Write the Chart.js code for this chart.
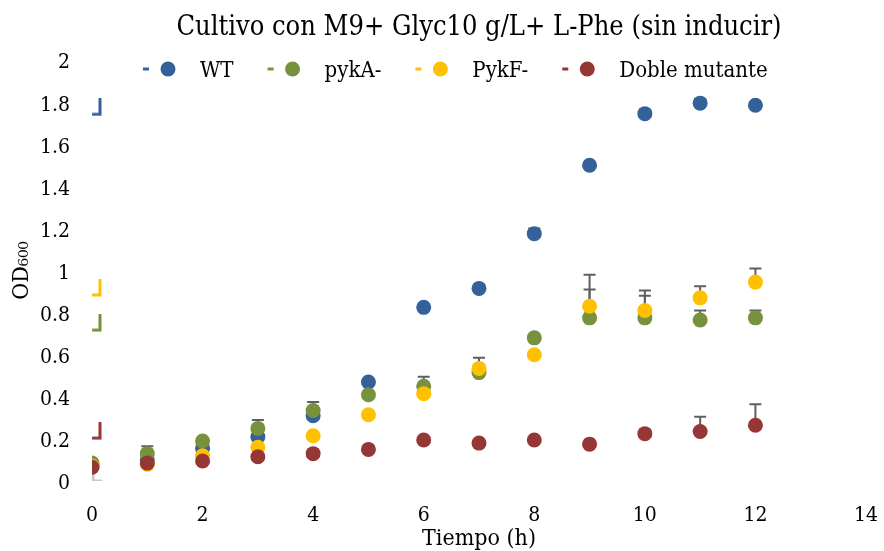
<!DOCTYPE html>
<html>
<head>
<meta charset="utf-8">
<script src="https://cdn.jsdelivr.net/npm/chart.js@4"></script>
<style>
  html, body { margin: 0; padding: 0; background: #fff; }
  #wrap { width: 884px; height: 551px; }
</style>
</head>
<body>
<div id="wrap"><canvas id="odChart"></canvas></div>
<script>
const tiempo = [0, 1, 2, 3, 4, 5, 6, 7, 8, 9, 10, 11, 12];

const seriesNames = ["WT", "pykA-", "PykF-", "Doble mutante"];
const seriesColors = ["#34619a", "#76923c", "#ffc000", "#953735"];

const wt = [0.075, 0.10, 0.155, 0.21, 0.31, 0.47, 0.825, 0.915, 1.175, 1.50, 1.745, 1.795, 1.785];
const pykA = [0.085, 0.13, 0.19, 0.25, 0.335, 0.41, 0.45, 0.515, 0.68, 0.775, 0.775, 0.765, 0.775];
const pykF = [0.07, 0.08, 0.12, 0.16, 0.215, 0.315, 0.415, 0.535, 0.60, 0.83, 0.81, 0.87, 0.945];
const doble = [0.065, 0.085, 0.095, 0.115, 0.13, 0.15, 0.195, 0.18, 0.195, 0.175, 0.225, 0.235, 0.265];

// upper error bars
const wtErr = [0, 0, 0, 0, 0.01, 0.01, 0, 0.005, 0.025, 0.01, 0.01, 0.02, 0.01];
const pykAErr = [0, 0.035, 0, 0.04, 0.04, 0.005, 0.045, 0, 0, 0.135, 0.105, 0.045, 0.035];
const pykFErr = [0, 0, 0, 0, 0, 0.005, 0, 0.05, 0, 0.15, 0.095, 0.055, 0.065];
const dobleErr = [0, 0, 0, 0, 0, 0, 0, 0, 0, 0, 0, 0.07, 0.10];

// stray marker fragments near t = 0
const strayX = 0.09;
const strayY = [1.775, 0.75, 0.917, 0.237, 0.033];
const strayColors = ["#34619a", "#76923c", "#ffc000", "#953735", "#c8c8c8"];

const xTicks = [0, 2, 4, 6, 8, 10, 12, 14];
const yTicks = [0, 0.2, 0.4, 0.6, 0.8, 1, 1.2, 1.4, 1.6, 1.8, 2];

const FONT = "'DejaVu Serif Condensed', 'DejaVu Serif', serif";

function makeCorner(color, flip){
    const c = document.createElement("canvas");
    c.width = 12;
    c.height = 18;
    const g = c.getContext("2d");
    g.strokeStyle = color;
    g.lineWidth = 3;
    g.lineCap = "round";
    g.beginPath();
    if(flip){
        g.moveTo(2, 1);
        g.lineTo(2, 16);
        g.lineTo(10, 16);
    } else {
        g.moveTo(9, 1);
        g.lineTo(9, 16);
        g.lineTo(2, 16);
    }
    g.stroke();
    return c;
}

const values = [wt, pykA, pykF, doble];
const errs = [wtErr, pykAErr, pykFErr, dobleErr];

const datasets = values.map((vals, i) => ({
    label: seriesNames[i],
    data: tiempo.map((t, j) => ({x: t, y: vals[j]})),
    backgroundColor: seriesColors[i],
    borderColor: seriesColors[i],
    pointRadius: 7.5,
    pointHoverRadius: 7.5,
    pointBorderWidth: 0,
    showLine: false,
    order: 4 - i
}));

strayY.forEach((y, i) => {
    datasets.push({
        label: "stray" + i,
        data: [{x: strayX, y: y}],
        pointStyle: makeCorner(strayColors[i], i === 4),
        pointRadius: 8,
        showLine: false,
        order: 10
    });
});

const errorBars = {
    id: "errorBars",
    beforeDatasetsDraw(chart){
        const ctx = chart.ctx;
        const xs = chart.scales.x;
        const ys = chart.scales.y;
        ctx.save();
        ctx.strokeStyle = "#5f5f5f";
        ctx.lineWidth = 2;
        errs.forEach((err, i) => {
            err.forEach((e, j) => {
                if(!e) return;
                const px = xs.getPixelForValue(tiempo[j]);
                const y0 = ys.getPixelForValue(values[i][j]);
                const y1 = ys.getPixelForValue(values[i][j] + e);
                ctx.beginPath();
                ctx.moveTo(px, y0);
                ctx.lineTo(px, y1);
                ctx.moveTo(px - 6, y1);
                ctx.lineTo(px + 6, y1);
                ctx.stroke();
            });
        });
        ctx.restore();
    }
};

const legendPlugin = {
    id: "dashLegend",
    afterDraw(chart){
        const ctx = chart.ctx;
        ctx.save();
        ctx.font = "22px " + FONT;
        ctx.textBaseline = "middle";
        const gap = 37;
        const widths = seriesNames.map(n => 54 + ctx.measureText(n).width);
        let x = 143;
        const y = 69;
        seriesNames.forEach((name, i) => {
            ctx.strokeStyle = seriesColors[i];
            ctx.lineWidth = 3;
            ctx.beginPath();
            ctx.moveTo(x, y);
            ctx.lineTo(x + 6, y);
            ctx.stroke();
            ctx.fillStyle = seriesColors[i];
            ctx.beginPath();
            ctx.arc(x + 25, y, 7.5, 0, Math.PI * 2);
            ctx.fill();
            ctx.fillStyle = "#000";
            ctx.fillText(name, x + 57, y + 2);
            x += widths[i] + gap;
        });
        ctx.restore();
    }
};

const ctx = document.getElementById("odChart").getContext("2d");

new Chart(ctx, {
    type: "scatter",
    data: { datasets: datasets },
    plugins: [errorBars, legendPlugin],
    options: {
        responsive: true,
        maintainAspectRatio: false,
        animation: false,
        layout: { padding: { top: 0, right: 18, bottom: 0, left: 0 } },
        plugins: {
            legend: { display: false },
            tooltip: { enabled: false },
            title: {
                display: true,
                fullSize: false,
                text: "Cultivo con M9+ Glyc10 g/L+ L-Phe (sin inducir)",
                color: "#000",
                font: { family: FONT, size: 27, weight: "normal" },
                padding: { top: 12, bottom: 15.6 }
            }
        },
        scales: {
            x: {
                type: "linear",
                min: 0,
                max: 14,
                afterBuildTicks(scale){
                    scale.ticks = xTicks.map(v => ({value: v}));
                },
                afterFit(scale){
                    scale.height = 70;
                    scale.paddingLeft = 0;
                    scale.paddingRight = 0;
                },
                grid: { display: false, drawTicks: false },
                border: { display: false },
                ticks: {
                    color: "#000",
                    padding: 22,
                    font: { family: FONT, size: 21 }
                },
                title: {
                    display: true,
                    text: "Tiempo (h)",
                    color: "#000",
                    font: { family: FONT, size: 23 },
                    padding: { top: 0, bottom: -2 }
                }
            },
            y: {
                min: 0,
                max: 2,
                afterBuildTicks(scale){
                    scale.ticks = yTicks.map(v => ({value: v}));
                },
                afterFit(scale){
                    scale.width = 92;
                    scale.paddingTop = 0;
                    scale.paddingBottom = 0;
                },
                grid: { display: false, drawTicks: false },
                border: { display: false },
                ticks: {
                    color: "#000",
                    padding: 22,
                    labelOffset: 3,
                    font: { family: FONT, size: 21 },
                    callback: v => String(+v.toFixed(1))
                },
                title: {
                    display: true,
                    text: "OD₆₀₀",
                    color: "#000",
                    font: { family: FONT, size: 23 },
                    padding: { top: 8, bottom: 0 }
                }
            }
        }
    }
});
</script>
</body>
</html>
